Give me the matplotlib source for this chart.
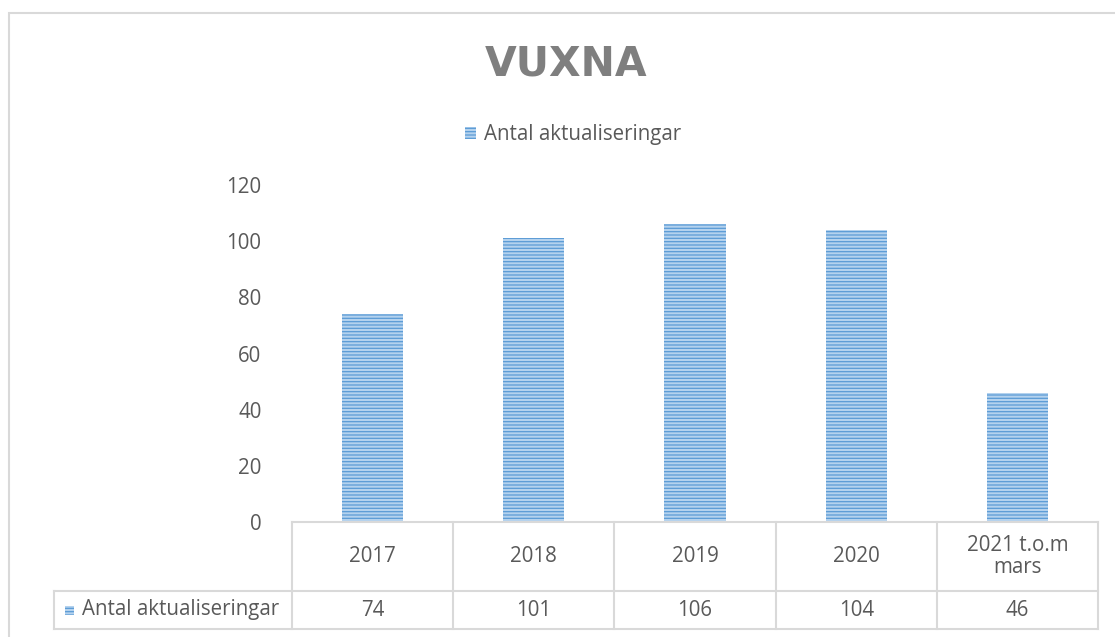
import matplotlib
matplotlib.use("Agg")
import matplotlib.pyplot as plt
from matplotlib.patches import Rectangle
from matplotlib.lines import Line2D

categories = ["2017", "2018", "2019", "2020", "2021 t.o.m\nmars"]
values = [74, 101, 106, 104, 46]
series_name = "Antal aktualiseringar"
title = "VUXNA"
yticks = [0, 20, 40, 60, 80, 100, 120]

W, H = 1115, 637
plt.rcParams['hatch.linewidth'] = 0.9
plt.rcParams['font.family'] = ['Open Sans', 'DejaVu Sans']
txt_color = '#595959'
grid_color = '#d9d9d9'
bar_face = '#b4d2ee'
bar_hatch = '#5b9bd5'
fs = 14.8

fig = plt.figure(figsize=(W / 100, H / 100), dpi=100)
fig.patch.set_facecolor('white')

left_px, right_px, base_px, top_px = 292, 1098, 522, 185
ax = fig.add_axes([left_px / W, 1 - base_px / H, (right_px - left_px) / W, (base_px - top_px) / H])

x = list(range(len(categories)))
bars = ax.bar(x, values, width=0.38, color=bar_face, edgecolor=bar_hatch, hatch='-----',
              linewidth=0, label=series_name)

ax.set_xlim(-0.5, len(categories) - 0.5)
ax.set_ylim(0, 120)
ax.set_yticks(yticks)
ax.set_yticklabels([str(t) for t in yticks])
ax.tick_params(axis='y', length=0, pad=22, labelsize=fs, labelcolor=txt_color)
ax.set_xticks([])
for s in ['top', 'right', 'left']:
    ax.spines[s].set_visible(False)
ax.spines['bottom'].set_color(grid_color)
ax.spines['bottom'].set_linewidth(1.5)

# data table below the axis
axh = base_px - top_px
unit = (right_px - left_px) / len(categories)
y_row1 = (base_px - 591) / axh
y_row2 = (base_px - 629) / axh
x_label_left = -0.5 - (left_px - 54) / unit
n = len(categories)

def add_line(xs, ys):
    ln = Line2D(xs, ys, color=grid_color, lw=1.5, clip_on=False,
                transform=ax.get_xaxis_transform())
    ax.add_line(ln)

for i in range(n + 1):
    add_line([i - 0.5, i - 0.5], [0, y_row2])
add_line([x_label_left, n - 0.5], [y_row1, y_row1])
add_line([x_label_left, n - 0.5], [y_row2, y_row2])
add_line([x_label_left, x_label_left], [y_row1, y_row2])

tr = ax.get_xaxis_transform()
for i, (c, v) in enumerate(zip(categories, values)):
    ax.text(i, y_row1 / 2, c, ha='center', va='center', fontsize=fs,
            color=txt_color, transform=tr, linespacing=1.05)
    ax.text(i, (y_row1 + y_row2) / 2, str(v), ha='center', va='center', fontsize=fs,
            color=txt_color, transform=tr)

# legend key inside table
key_x = x_label_left + (65 - 54) / unit
ym = (y_row1 + y_row2) / 2
ax.add_patch(Rectangle((key_x, ym - 4.5 / axh), 9 / unit, 9 / axh, transform=tr,
                       facecolor=bar_face, edgecolor=bar_hatch, hatch='-----', lw=0,
                       clip_on=False))
ax.text(x_label_left + (82 - 54) / unit, ym, series_name, ha='left', va='center',
        fontsize=fs, color=txt_color, transform=tr)

# title and legend
fig.text(566 / W, 1 - 64 / H, title, ha='center', va='center', fontsize=29.5,
         fontweight='bold', color='#7f7f7f', family='DejaVu Sans')
leg = fig.legend(handles=[bars], labels=[series_name], loc='center',
                 bbox_to_anchor=(573 / W, 1 - 135 / H), frameon=False,
                 handlelength=0.55, handleheight=0.55, handletextpad=0.35,
                 fontsize=fs, labelcolor=txt_color)

# outer chart border
fig.patches.append(Rectangle((9 / W, -0.05), 1.2, 1 - 13 / H + 0.05, transform=fig.transFigure,
                             fill=False, edgecolor=grid_color, lw=1.5))

fig.savefig('out.png', dpi=100, facecolor='white')
